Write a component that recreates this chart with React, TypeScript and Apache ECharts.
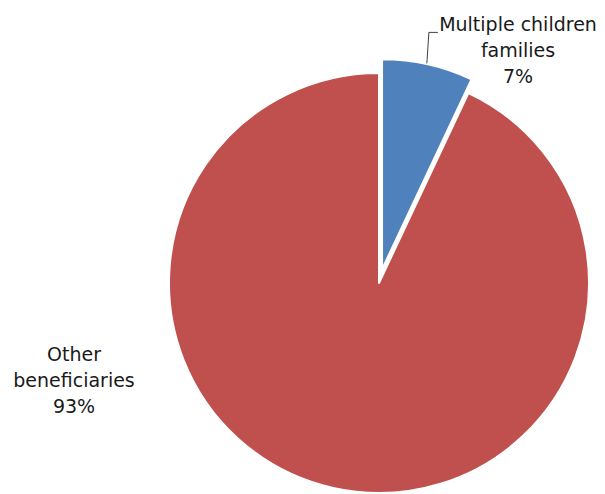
import React, { useEffect, useRef } from "react";
import * as echarts from "echarts";

const categories = ["Multiple children families", "Other beneficiaries"];
const labelTexts = ["Multiple children\nfamilies", "Other\nbeneficiaries"];
const values = [7, 93];
const colors = ["#4F81BD", "#C0504D"];

const CX = 379;
const CY = 283;
const R = 210;
const OFFSET = 14;

export default function App() {
  const ref = useRef<HTMLDivElement>(null);
  useEffect(() => {
    if (!ref.current) return;
    const chart = echarts.init(ref.current, null, { renderer: "svg" });
    const font = "'DejaVu Sans', sans-serif";
    const total = values.reduce((a, b) => a + b, 0);
    const mid = ((values[0] / total) * Math.PI * 2) / 2;
    const p0 = [CX + (R + OFFSET) * Math.sin(mid) - 1, CY - (R + OFFSET) * Math.cos(mid) - 1];
    const p1 = [p0[0] + 2, p0[1] - 31];
    const p2 = [p1[0] + 9, p1[1]];
    const textStyle = {
      fill: "#1a1a1a",
      font: `19px ${font}`,
      fontFamily: font,
      fontSize: 19,
      lineHeight: 26,
      align: "center",
      verticalAlign: "middle",
    };
    chart.setOption({
      animation: false,
      graphic: [
        {
          type: "polyline",
          shape: { points: [p0, p1, p2] },
          style: { stroke: "#404040", lineWidth: 1, fill: null },
          z: 10,
        },
        {
          type: "text",
          x: 518,
          y: 50,
          z: 10,
          style: {
            ...textStyle,
            text: `${labelTexts[0]}\n${values[0]}%`,
          },
        },
      ],
      series: [
        {
          type: "pie",
          center: [CX, CY],
          radius: R,
          startAngle: 90,
          clockwise: true,
          selectedMode: "single",
          selectedOffset: OFFSET,
          avoidLabelOverlap: false,
          itemStyle: { borderColor: "#ffffff", borderWidth: 2 },
          emphasis: { disabled: true },
          label: {
            show: true,
            position: "outside",
            color: "#1a1a1a",
            fontFamily: font,
            fontSize: 19,
            lineHeight: 26,
            align: "center",
            formatter: (p: any) => `${labelTexts[p.dataIndex]}\n${p.value}%`,
          },
          labelLine: { show: false },
          labelLayout: () => ({
            x: 74,
            y: 380,
            align: "center",
            verticalAlign: "middle",
          }),
          data: categories.map((name, i) => ({
            name,
            value: values[i],
            selected: i === 0,
            itemStyle: { color: colors[i] },
            label: { show: i === 1 },
          })),
        },
      ],
    });
    return () => chart.dispose();
  }, []);
  return (
    <div
      ref={ref}
      style={{ position: "absolute", left: 0, top: 0, width: 605, height: 494 }}
    />
  );
}
